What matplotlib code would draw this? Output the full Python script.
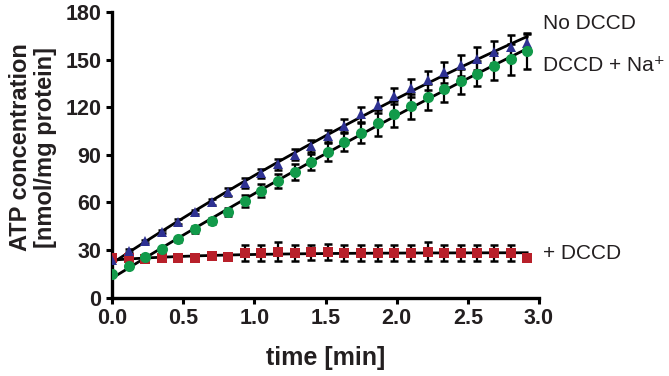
import numpy as np
import matplotlib
matplotlib.use('Agg')
import matplotlib.pyplot as plt

plt.rcParams['font.family'] = ['Liberation Sans', 'DejaVu Sans']

# sampling every 7 s, in minutes
time_min = np.arange(26) * 7.0 / 60.0

no_dccd = [24.0, 29.5, 35.5, 41.5, 48.0, 54.0, 60.3, 66.5, 72.4, 78.3, 84.0, 90.2, 95.5,
           101.8, 108.2, 115.5, 121.3, 127.3, 132.0, 137.0, 142.0, 146.5, 150.7, 155.0, 158.0, 160.5]
no_dccd_err = [1, 1, 1, 1, 1.5, 1.5, 2, 2.5, 3, 3, 3.5, 3.5, 4, 4, 4.5, 4.5, 5, 5,
               5.5, 6, 6.5, 6.5, 7, 7, 7.5, 6.5]

dccd_na = [15.0, 20.0, 25.4, 30.4, 36.7, 43.0, 48.5, 54.1, 61.0, 67.5, 73.4, 79.3, 85.6,
           91.9, 98.2, 103.8, 110.1, 115.8, 120.6, 126.5, 131.3, 136.4, 141.2, 145.8, 150.2, 155.3]
dccd_na_err = [1, 1, 1, 1, 1.5, 2, 2, 2.5, 3.7, 4, 4.5, 5, 5.2, 5.5, 6, 6.5, 8.4, 8.4,
               8, 8, 8, 8, 8, 8.5, 9.6, 11]

dccd = [24.8, 24.8, 24.5, 24.8, 25.3, 24.8, 26.0, 25.4, 28.0, 28.3, 29.0, 28.0, 28.5,
        29.0, 28.3, 28.3, 28.3, 28.3, 28.3, 29.0, 28.3, 28.3, 28.3, 28.3, 28.3, 24.8]
dccd_err = [0, 0, 0, 0, 0, 0, 0, 0, 5, 5, 6, 5, 5, 5, 5, 5, 5, 5, 5, 6, 5, 5, 5, 5, 5, 0]

labels = ['No DCCD', 'DCCD + Na\u207a', '+ DCCD']
label_y = [173, 146.5, 28.1]

c_blue = '#2e3192'
c_green = '#129a4a'
c_red = '#b8202a'
txt = '#231f20'


def one_phase_fit(t, y):
    # y = P + (Y0 - P) * exp(-k t); grid search k, least squares for the rest
    y = np.asarray(y)
    best = None
    for k in np.logspace(-3, 1.5, 400):
        A = np.column_stack([np.ones_like(t), np.exp(-k * t)])
        coef, res, _, _ = np.linalg.lstsq(A, y, rcond=None)
        sse = np.sum((A @ coef - y) ** 2)
        if best is None or sse < best[0]:
            best = (sse, k, coef)
    _, k, coef = best
    return lambda tt: coef[0] + coef[1] * np.exp(-k * tt)


fig = plt.figure(figsize=(6.69, 3.76), dpi=100)
ax = fig.add_axes([0.1674, 0.2082, 0.6383, 0.7598])

tt = np.linspace(0, time_min[-1], 200)
for vals in [no_dccd, dccd_na, dccd]:
    f = one_phase_fit(time_min, vals)
    ax.plot(tt, f(tt), color='black', lw=2.0, zorder=1)

for vals, err, col, mk, ms in [(dccd, dccd_err, c_red, 's', 6.8),
                               (no_dccd, no_dccd_err, c_blue, '^', 7.6),
                               (dccd_na, dccd_na_err, c_green, 'o', 8.0)]:
    ax.errorbar(time_min, vals, yerr=err, fmt='none', ecolor='black',
                elinewidth=1.6, capsize=3.2, capthick=1.8, zorder=2)
    ax.plot(time_min, vals, linestyle='none', marker=mk, ms=ms,
            color=col, markeredgewidth=0, zorder=3)

ax.set_xlim(0, 3.0)
ax.set_ylim(0, 180)
ax.set_xticks(np.arange(0, 3.01, 0.5))
ax.set_yticks(np.arange(0, 181, 30))
ax.set_xticklabels(['%.1f' % v for v in np.arange(0, 3.01, 0.5)])

for s in ['top', 'right']:
    ax.spines[s].set_visible(False)
for s in ['left', 'bottom']:
    ax.spines[s].set_linewidth(2.4)
ax.tick_params(width=2.2, length=4.5, labelsize=15.5, colors='black',
               labelcolor=txt, pad=3)
for lab in ax.get_xticklabels() + ax.get_yticklabels():
    lab.set_fontweight('bold')

ax.set_xlabel('time [min]', fontsize=18, fontweight='bold', color=txt)
ax.xaxis.set_label_coords(0.5, -0.17)
ax.set_ylabel('ATP concentration\n[nmol/mg protein]', fontsize=17,
              fontweight='bold', color=txt, linespacing=1.15)
ax.yaxis.set_label_coords(-0.128, 0.526)

for lab, y in zip(labels, label_y):
    ax.text(3.03, y, lab, fontsize=15, color=txt, va='center', ha='left', clip_on=False)

fig.savefig('out.png', dpi=100)
